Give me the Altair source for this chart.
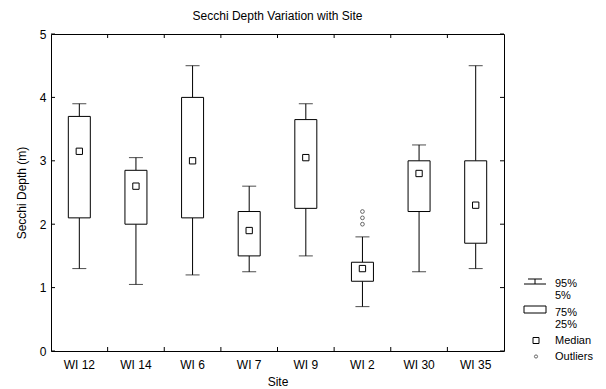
import altair as alt
import pandas as pd

sites = ["WI 12", "WI 14", "WI 6", "WI 7", "WI 9", "WI 2", "WI 30", "WI 35"]
p5 = [1.3, 1.05, 1.2, 1.25, 1.5, 0.7, 1.25, 1.3]
q1 = [2.1, 2.0, 2.1, 1.5, 2.25, 1.1, 2.2, 1.7]
median = [3.15, 2.6, 3.0, 1.9, 3.05, 1.3, 2.8, 2.3]
q3 = [3.7, 2.85, 4.0, 2.2, 3.65, 1.4, 3.0, 3.0]
p95 = [3.9, 3.05, 4.5, 2.6, 3.9, 1.8, 3.25, 4.5]
outlier_sites = ["WI 2", "WI 2", "WI 2"]
outlier_values = [2.0, 2.1, 2.2]
y_ticks = [0, 1, 2, 3, 4, 5]
legend_labels = ["95%", "5%", "75%", "25%", "Median", "Outliers"]

W, H = 453, 317
FONT = "Liberation Sans"

df = pd.DataFrame({"site": sites, "p5": p5, "q1": q1, "median": median, "q3": q3, "p95": p95})
out_df = pd.DataFrame({"site": outlier_sites, "value": outlier_values})
tick_df = pd.DataFrame({"v": y_ticks})
bound_df = pd.DataFrame({"site": sites[1:]})

xs = alt.X("site:N", sort=sites, scale=alt.Scale(paddingInner=0, paddingOuter=0),
           axis=alt.Axis(title="Site", domain=False, ticks=False, labelPadding=8,
                         titlePadding=6, labelAngle=0, labelFontSize=12, titleFontSize=12,
                         labelColor="#000", titleColor="#000", titleFontWeight="normal"))
yscale = alt.Scale(domain=[0, 5], nice=False)
yax = alt.Axis(title="Secchi Depth (m)", values=y_ticks, format="d", domain=False, ticks=False,
               grid=False, labelPadding=5, titlePadding=11, labelFontSize=12, titleFontSize=12,
               labelColor="#000", titleColor="#000", titleFontWeight="normal")

base = alt.Chart(df)
whisk_lo = base.mark_rule(color="#000", strokeWidth=1).encode(
    x=xs, y=alt.Y("p5:Q", scale=yscale, axis=yax), y2="q1:Q")
whisk_hi = base.mark_rule(color="#000", strokeWidth=1).encode(
    x=alt.X("site:N", sort=sites), y=alt.Y("q3:Q"), y2="p95:Q")
box = base.mark_bar(size=22, fill="white", stroke="#000", strokeWidth=1).encode(
    x=alt.X("site:N", sort=sites), y=alt.Y("q1:Q"), y2="q3:Q")
cap_lo = base.mark_tick(size=14, thickness=1, color="#000").encode(
    x=alt.X("site:N", sort=sites), y=alt.Y("p5:Q"))
cap_hi = base.mark_tick(size=14, thickness=1, color="#000").encode(
    x=alt.X("site:N", sort=sites), y=alt.Y("p95:Q"))
med = base.mark_square(size=40, filled=False, fill="white", fillOpacity=1, stroke="#000",
                       strokeWidth=1, opacity=1).encode(
    x=alt.X("site:N", sort=sites), y=alt.Y("median:Q"))
outl = alt.Chart(out_df).mark_point(shape="circle", size=14, filled=False, stroke="#444",
                                    strokeWidth=0.8, opacity=1).encode(
    x=alt.X("site:N", sort=sites), y=alt.Y("value:Q"))

# inward ticks
tk = alt.Chart(tick_df)
lt = tk.mark_rule(color="#000").encode(x=alt.value(0), x2=alt.value(4), y=alt.Y("v:Q"))
rt = tk.mark_rule(color="#000").encode(x=alt.value(W - 4), x2=alt.value(W), y=alt.Y("v:Q"))
bd = alt.Chart(bound_df)
bt = bd.mark_rule(color="#000").encode(x=alt.X("site:N", sort=sites, bandPosition=0),
                                       y=alt.value(H), y2=alt.value(H - 4))
tt = bd.mark_rule(color="#000").encode(x=alt.X("site:N", sort=sites, bandPosition=0),
                                       y=alt.value(0), y2=alt.value(4))

# legend (pixel layout relative to plot origin)
leg_src = alt.Chart(pd.DataFrame({"k": [0]}))
LX = 473
L = []
L.append(leg_src.mark_rule(color="#000").encode(x=alt.value(LX + 4), x2=alt.value(LX + 18), y=alt.value(245)))
L.append(leg_src.mark_rule(color="#000").encode(x=alt.value(LX + 11), y=alt.value(245), y2=alt.value(250)))
L.append(leg_src.mark_rule(color="#000").encode(x=alt.value(LX), x2=alt.value(LX + 22), y=alt.value(250)))
L.append(leg_src.mark_rect(fill="white", stroke="#000", strokeWidth=1).encode(
    x=alt.value(LX), x2=alt.value(LX + 22), y=alt.value(272), y2=alt.value(279)))
L.append(leg_src.mark_square(size=36, filled=False, stroke="#000", strokeWidth=1, opacity=1).encode(
    x=alt.value(LX + 12), y=alt.value(306.5)))
L.append(leg_src.mark_point(shape="circle", size=10, filled=False, stroke="#444", strokeWidth=0.8,
                            opacity=1).encode(x=alt.value(LX + 12), y=alt.value(322.5)))
row_y = [249.5, 261.5, 278.5, 290.5, 306.5, 323]
for lab, yy in zip(legend_labels, row_y):
    L.append(leg_src.mark_text(text=lab, align="left", baseline="middle", font=FONT, fontSize=11,
                               color="#000").encode(x=alt.value(504), y=alt.value(yy)))

chart = alt.layer(whisk_lo, whisk_hi, box, cap_lo, cap_hi, med, outl, lt, rt, bt, tt, *L).properties(
    width=W, height=H,
    title=alt.TitleParams("Secchi Depth Variation with Site", fontSize=12, fontWeight="normal",
                          font=FONT, color="#000", anchor="middle", offset=5),
    autosize=alt.AutoSizeParams(type="none"),
    padding={"left": 51, "top": 34, "right": 102, "bottom": 38},
    background="white",
).configure_view(stroke="#000", strokeWidth=1).configure_axis(labelFont=FONT, titleFont=FONT)

chart.save("out.html", embed_options={"renderer": "svg", "actions": False})
